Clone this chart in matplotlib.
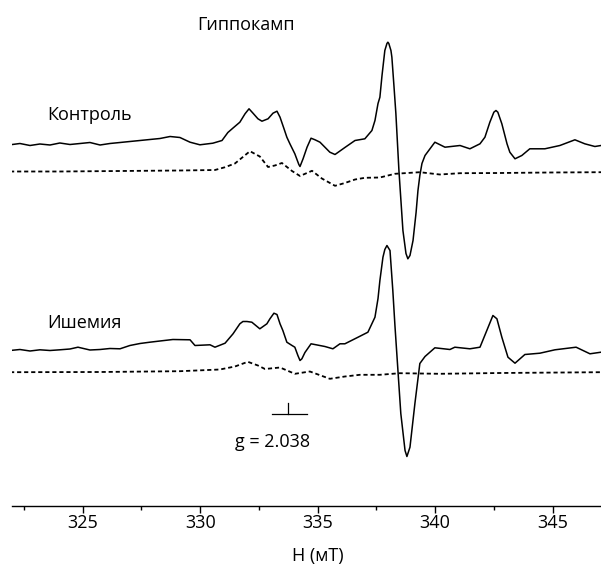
import numpy as np
import matplotlib
matplotlib.use('Agg')
import matplotlib.pyplot as plt
from matplotlib.ticker import MultipleLocator

plt.rcParams['font.family'] = ['Open Sans', 'DejaVu Sans']

# magnetic field (mT) and signal (a.u., relative to each trace's own baseline)
CTRL_H = [321.91, 322.33, 322.76, 323.18, 323.61, 324.03, 324.46, 324.89, 325.31, 325.74,
          326.16, 326.59, 327.01, 327.44, 327.86, 328.29, 328.72, 329.14, 329.57, 329.99,
          330.54, 330.93, 331.18, 331.40, 331.69, 331.91, 332.08, 332.25, 332.46, 332.63,
          332.89, 333.10, 333.27, 333.40, 333.57, 333.69, 333.82, 334.03, 334.20, 334.25,
          334.38, 334.55, 334.72, 334.89, 335.10, 335.52, 335.74, 336.16, 336.59, 337.01,
          337.31, 337.44, 337.57, 337.65, 337.74, 337.86, 337.95, 337.99, 338.03, 338.12,
          338.16, 338.25, 338.33, 338.46, 338.63, 338.76, 338.84, 338.93, 339.06, 339.19,
          339.27, 339.35, 339.44, 339.57, 339.99, 340.42, 341.06, 341.48, 341.91, 342.12,
          342.33, 342.50, 342.59, 342.67, 342.84, 343.06, 343.18, 343.40, 343.69, 344.03,
          344.67, 345.31, 345.95, 346.37, 346.80, 347.06]
CTRL_I = [-0.3, 1, -1, 0.5, -0.5, 1.5, 0, 1, 2, -0.5,
          1, 2, 3, 4, 5, 6, 8, 7, 2.3, -0.3,
          1.3, 4, 12, 16.5, 22.3, 30.7, 35.7, 31.3, 25.7, 23.3,
          25.7, 31.3, 33.3, 27.3, 15.7, 7.3, 0.7, -9.3, -20, -22,
          -14.3, -2.7, 6.3, 4.7, 2.3, -7.7, -10, -3, 4, 5.7,
          14, 24, 41, 47.3, 69, 94, 101, 102.3, 101, 94,
          87.3, 58, 31, -26, -86, -109, -114.3, -111, -96, -68,
          -46, -31, -19, -11, 2.3, -2.7, -1, -4.3, 0.7, 7.3,
          22.3, 32.3, 34, 32.3, 20.7, 0.7, -7.7, -14.3, -11, -4.3,
          -4.3, -1, 4.7, 0.7, -2, -1]

CTRL_DASH_H = [321.91, 324.03, 326.59, 329.14, 330.63, 331.06, 331.48, 332.12, 332.54, 332.89,
               333.18, 333.48, 333.91, 334.25, 334.76, 335.18, 335.74, 336.16, 336.59, 337.01,
               337.65, 338.29, 339.35, 340.20, 341.06, 342.76, 344.88, 347.06]
CTRL_DASH_I = [0, 0, 0.5, 1, 1.5, 4.3, 8, 20.3, 15, 4.5,
               6, 8.5, 0.5, -4.5, 0.7, -7, -14.3, -11.5, -8, -6.3,
               -6, -2.3, -0.7, -3, -1.7, -1.5, -1, -0.7]

ISCH_H = [321.91, 322.33, 322.76, 323.18, 323.61, 324.03, 324.46, 324.80, 325.31, 325.74,
          326.16, 326.59, 327.01, 327.44, 327.86, 328.29, 328.84, 329.57, 329.78, 330.42,
          330.63, 331.06, 331.40, 331.69, 331.82, 331.99, 332.20, 332.37, 332.54, 332.84,
          332.97, 333.14, 333.27, 333.40, 333.52, 333.69, 333.91, 334.03, 334.16, 334.25,
          334.33, 334.46, 334.72, 335.31, 335.65, 335.95, 336.16, 336.72, 337.14, 337.44,
          337.57, 337.65, 337.78, 337.86, 337.95, 338.08, 338.20, 338.29, 338.38, 338.54,
          338.72, 338.80, 338.93, 339.14, 339.35, 339.57, 339.99, 340.63, 340.84, 341.48,
          341.91, 342.20, 342.46, 342.63, 342.84, 343.10, 343.40, 343.82, 344.46, 345.10,
          346.00, 346.59, 347.06]
ISCH_I = [0, 1, -0.5, 0.7, 0, 0.7, 1.5, 3.3, 0.5, 1,
          2, 1.7, 5, 7, 8.3, 9.5, 11, 10.7, 5, 5.7,
          3.3, 7.3, 16.7, 26.7, 29, 29, 28.3, 25, 21.7, 26.7,
          31.7, 37.3, 36, 26.7, 20, 8.3, 5, 3.3, -5, -10,
          -8.3, -2, 6.7, 4, 1.7, 6.7, 6.7, 13.3, 18.3, 33.3,
          52, 70, 93.3, 101, 105, 100, 60, 25, -6.7, -63,
          -100, -106, -96.7, -53, -13, -6, 2.7, 1, 3.3, 1.7,
          3.3, 20, 35, 31.7, 13.3, -6.7, -12.7, -4, -2.7, 0.7,
          3.3, -3.3, -1.7]

ISCH_DASH_H = [321.91, 325.74, 329.14, 330.84, 331.48, 332.03, 332.46, 332.76, 333.40, 334.03,
               334.67, 335.52, 336.16, 336.80, 337.65, 338.50, 340.20, 342.76, 347.06]
ISCH_DASH_I = [0, 0.2, 1, 2.7, 5.7, 10.4, 6.7, 3.2, 4.7, -1.6,
               0.7, -6.6, -4.3, -2.6, -2.6, -1, -1.6, -0.8, 0]

G_FIELD = 333.75
G_LABEL = 'g = 2.038'

# vertical offsets of the stacked traces (1 unit ~ 1 px)
OFF_CTRL = 361
OFF_CTRL_DASH = 334
OFF_ISCH = 155
OFF_ISCH_DASH = 133.3

fig = plt.figure(figsize=(6.01, 5.66), dpi=100)
ax = fig.add_axes([11.7 / 601, 60.5 / 566, 1 - 11.7 / 601, 505.5 / 566])
ax.set_xlim(321.98, 347.06)
ax.set_ylim(0, 505.5)

ax.plot(CTRL_H, np.array(CTRL_I) + OFF_CTRL, color='black', lw=1.1)
ax.plot(CTRL_DASH_H, np.array(CTRL_DASH_I) + OFF_CTRL_DASH, color='black', lw=1.3,
        dashes=(2.3, 1.6))
ax.plot(ISCH_H, np.array(ISCH_I) + OFF_ISCH, color='black', lw=1.1)
ax.plot(ISCH_DASH_H, np.array(ISCH_DASH_I) + OFF_ISCH_DASH, color='black', lw=1.3,
        dashes=(2.3, 1.6))

# g-factor marker
ax.plot([G_FIELD - 0.71, G_FIELD + 0.78], [91.2, 91.2], color='black', lw=0.9)
ax.plot([G_FIELD, G_FIELD], [91.2, 102.2], color='black', lw=0.9)
ax.text(333.10, 63.8, G_LABEL, ha='center', va='center', fontsize=13)

ax.text(331.95, 480, 'Гиппокамп', ha='center', va='center', fontsize=13)
ax.text(323.48, 390.5, 'Контроль', ha='left', va='center', fontsize=13)
ax.text(323.48, 182.5, 'Ишемия', ha='left', va='center', fontsize=13)

for s in ['left', 'right', 'top']:
    ax.spines[s].set_visible(False)
ax.spines['bottom'].set_linewidth(1.0)
ax.set_yticks([])
ax.xaxis.set_major_locator(MultipleLocator(5))
ax.xaxis.set_minor_locator(MultipleLocator(2.5))
ax.tick_params(axis='x', which='major', length=5, width=1.0, labelsize=13, pad=1)
ax.tick_params(axis='x', which='minor', length=3, width=1.0)

fig.text(317.5 / 601, 1 - 556 / 566, 'H (мТ)', ha='center', va='center', fontsize=13)

fig.savefig('out.png', dpi=100)
